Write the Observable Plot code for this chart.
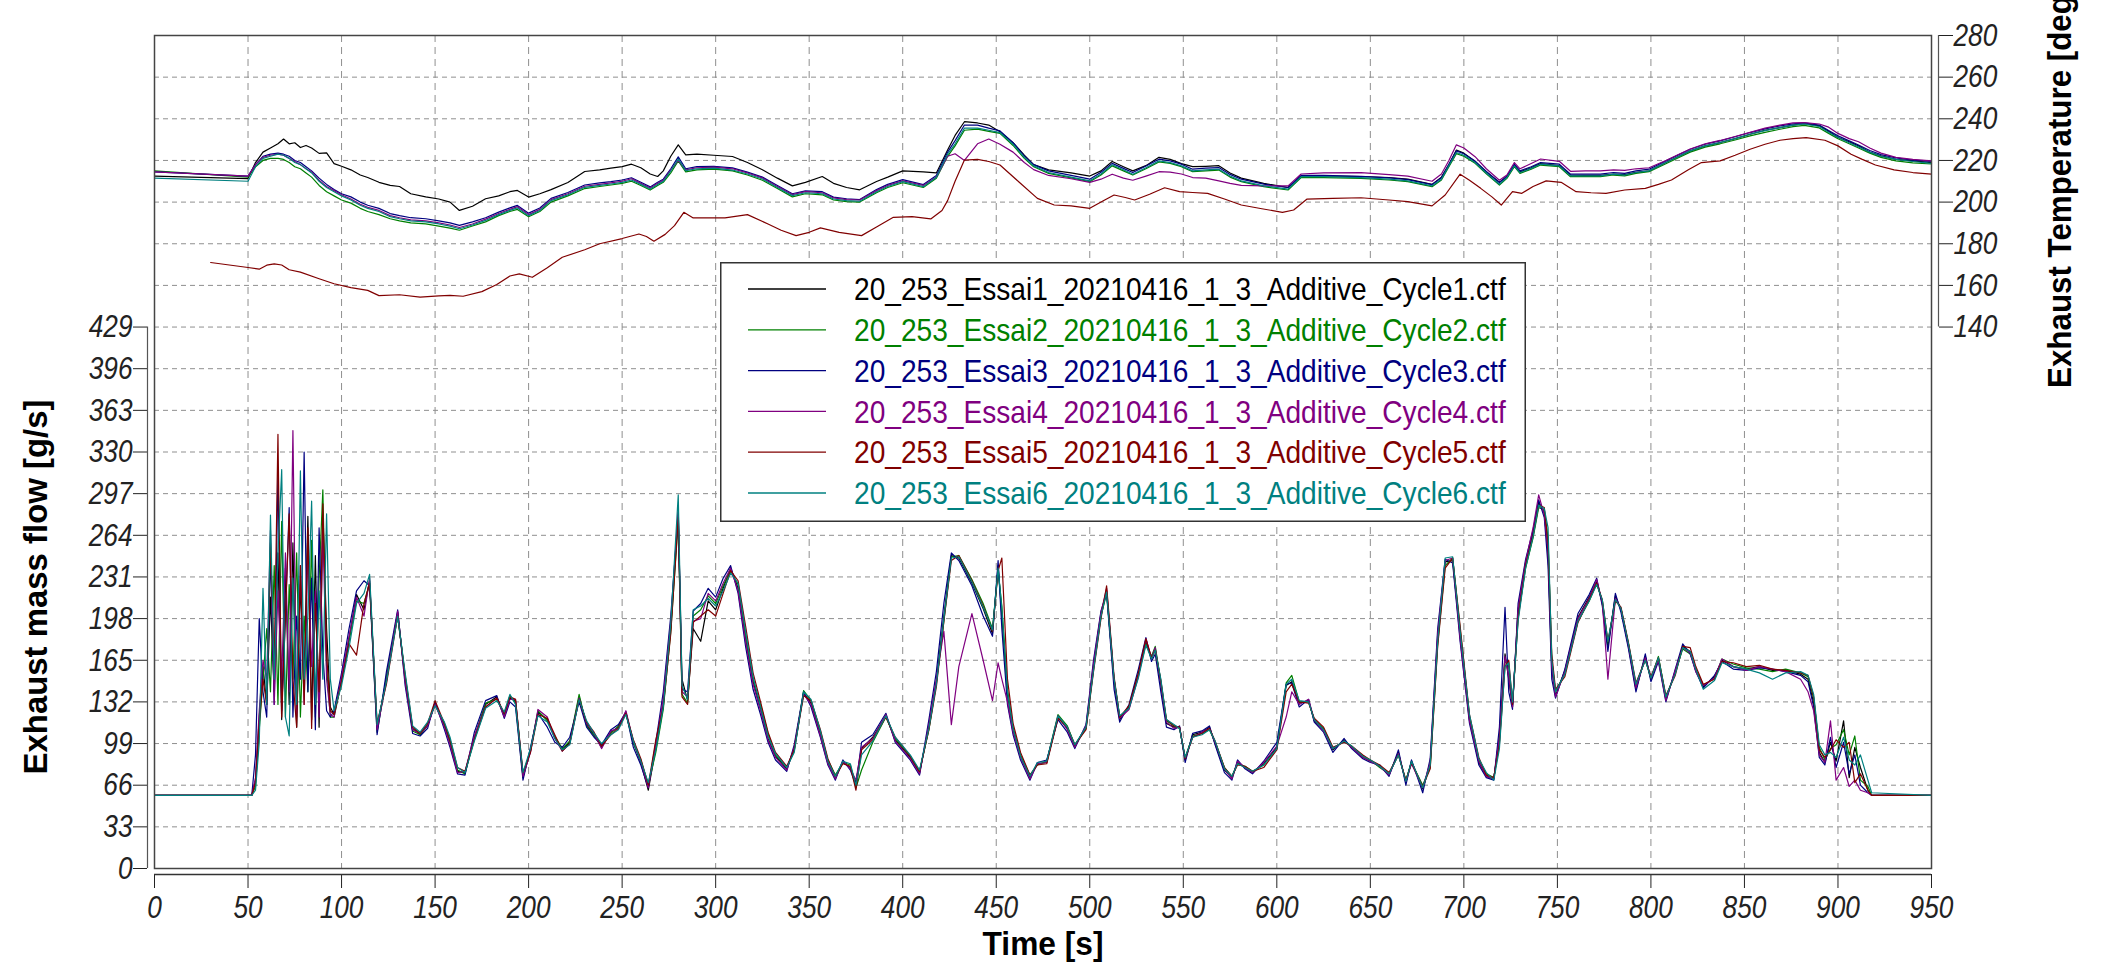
<!DOCTYPE html>
<html><head><meta charset="utf-8">
<script src="https://cdn.jsdelivr.net/npm/d3@7"></script>
<script src="https://cdn.jsdelivr.net/npm/@observablehq/plot@0.6"></script>
<style>
body{margin:0;background:#fff;}
#wrap{position:relative;width:2103px;height:968px;overflow:hidden;background:#fff;}
</style></head><body><div id="wrap"></div>
<script>
// ---------------- DATA ----------------
const seriesNames = [
  "20_253_Essai1_20210416_1_3_Additive_Cycle1.ctf",
  "20_253_Essai2_20210416_1_3_Additive_Cycle2.ctf",
  "20_253_Essai3_20210416_1_3_Additive_Cycle3.ctf",
  "20_253_Essai4_20210416_1_3_Additive_Cycle4.ctf",
  "20_253_Essai5_20210416_1_3_Additive_Cycle5.ctf",
  "20_253_Essai6_20210416_1_3_Additive_Cycle6.ctf"
];
const seriesColors = ["#000000", "#008000", "#000080", "#800080", "#800000", "#008080"];

const xTicks = [0,50,100,150,200,250,300,350,400,450,500,550,600,650,700,750,800,850,900,950];
const flowTicks = [0,33,66,99,132,165,198,231,264,297,330,363,396,429];
const tempTicks = [140,160,180,200,220,240,260,280];

// Exhaust mass flow [g/s]
const mfTime = [
0,52,54,56,58,60,62,64,66,68,70,72,74,76,78,80,82,84,86,88,90,92,94,96,
100,104,108,112,115,119,124,130,134,138,142,146,150,155,158,162,166,171,177,183,187,190,193,197,
201,205,210,214,218,222,227,231,235,239,244,248,252,256,260,264,268,272,276,280,282,285,288,292,296,
300,304,308,312,316,320,324,328,332,338,342,347,351,356,360,364,368,372,375,378,384,391,396,
404,409,414,418,422,426,430,437,443,448,451,453,456,459,463,468,472,477,483,488,492,498,
502,506,509,513,516,521,526,530,533,535,538,541,545,548,551,555,560,564,567,572,576,579,583,587,593,
600,605,608,612,617,620,625,630,636,640,646,650,655,660,665,669,672,678,682,686,690,694,698,
703,708,712,716,719,722,724,726,729,733,737,740,743,745,747,749,754,761,767,771,774,777,781,784,788,792,797,
800,804,808,813,817,821,824,828,834,838,844,851,858,865,872,880,884,887,890,893,896,899,
903,906,909,912,916,918,950];

const mfCycle1 = [
58,58,70,120,160,130,215,140,250,118,238,130,258,112,225,150,279,118,248,112,280,190,128,122,
150,182,217,205,228,112,150,203,150,111,106,113,131,113,100,77,76,104,130,136,121,135,133,74,
93,124,118,104,94,100,136,114,106,96,108,112,124,100,84,62,96,130,191,282,150,133,190,180,212,
205,222,238,222,182,148,127,103,89,79,95,139,131,106,84,72,84,80,68,95,104,121,102,
88,76,112,148,200,248,246,226,206,186,240,200,138,110,89,72,83,84,120,111,97,112,
160,202,220,148,118,128,154,180,166,174,146,115,112,112,86,106,108,112,99,78,72,84,80,76,83,
96,145,148,131,133,117,110,94,102,96,88,85,81,74,92,68,85,63,83,183,243,244,185,
118,84,73,71,105,170,150,128,205,242,266,290,282,250,158,137,157,199,215,228,210,176,216,205,176,142,168,
150,166,134,156,176,172,157,144,152,165,160,158,160,157,157,154,150,131,92,84,100,85,
117,72,96,80,62,58,58];

const mfCycle2 = [
58,58,65,110,150,190,140,240,130,275,120,225,150,250,120,200,140,260,120,230,300,160,120,120,
148,180,212,210,226,108,152,200,152,109,106,114,130,114,101,78,75,103,131,134,122,137,131,72,
94,125,117,105,95,101,138,113,105,97,107,113,123,99,86,66,92,126,188,275,138,131,200,205,216,
210,224,236,225,185,150,130,107,90,80,93,141,133,108,86,74,84,82,64,78,100,120,103,
89,77,110,147,196,247,248,229,210,190,236,208,142,112,90,74,82,85,122,113,98,111,
158,200,218,150,120,127,153,178,168,176,148,117,113,111,88,105,107,110,100,80,73,83,81,77,82,
95,147,153,132,132,118,111,95,101,97,89,86,80,75,90,70,84,66,80,178,240,246,190,
120,86,75,72,100,165,160,130,200,238,262,286,284,262,165,140,155,196,212,226,212,178,214,206,178,145,166,
150,168,136,155,174,170,158,145,151,166,162,159,158,156,158,155,152,135,96,86,95,98,
110,90,105,70,65,58,58];

const mfCycle3 = [
58,58,90,198,140,120,250,130,314,125,200,286,120,200,150,330,140,230,110,270,170,125,120,125,
155,190,220,228,224,106,156,205,145,107,105,111,132,110,96,75,74,108,133,137,119,132,128,70,
96,123,112,100,96,104,132,112,104,98,110,114,124,96,82,64,100,140,200,280,142,140,204,210,222,
215,230,240,218,176,142,122,100,86,77,98,140,128,104,82,70,86,78,66,100,106,123,100,
86,74,118,156,210,250,244,224,200,184,244,190,130,106,86,70,84,86,118,108,95,114,
165,204,218,142,116,130,158,183,164,170,140,112,110,113,84,107,109,113,98,76,70,86,79,75,85,
100,146,147,128,134,116,108,92,103,95,87,84,82,73,94,66,86,60,87,190,245,242,180,
115,82,72,70,112,207,140,126,210,245,268,292,278,240,150,135,158,202,217,230,208,172,218,203,174,140,170,
148,164,132,158,178,170,156,143,153,164,158,157,159,158,156,153,148,128,88,82,104,80,
100,75,90,66,60,58,58];

const mfCycle4 = [
58,58,72,125,165,150,268,130,220,150,250,140,347,120,240,130,250,160,220,120,270,150,122,120,
152,184,215,200,230,110,148,204,148,110,107,113,130,112,98,76,77,105,128,135,120,134,134,73,
92,126,120,103,93,99,135,115,107,95,109,111,125,101,85,64,98,135,195,285,140,136,196,198,218,
212,226,238,220,180,146,125,102,88,78,96,138,130,105,83,71,85,79,70,96,103,122,101,
87,75,114,150,188,114,160,202,165,133,163,150,132,108,88,71,83,84,121,110,96,113,
162,203,222,150,119,126,152,182,167,175,147,116,111,112,87,104,108,111,100,79,71,85,80,76,84,
97,120,140,130,134,118,109,95,101,96,88,85,81,74,91,69,83,64,84,186,244,246,182,
117,85,73,71,104,168,152,128,206,243,270,296,280,252,160,136,156,198,214,229,211,150,214,206,177,143,167,
151,165,133,157,175,171,156,145,151,166,160,157,160,158,156,150,140,125,90,84,117,70,
80,65,70,62,60,58,58];

const mfCycle5 = [
58,58,68,115,150,130,258,160,344,120,200,281,150,112,240,130,270,111,210,140,289,170,125,122,
148,178,169,210,226,115,146,200,153,112,107,115,133,115,102,80,77,102,128,135,123,136,134,76,
92,122,119,106,93,99,134,116,108,97,106,111,123,102,87,66,102,128,186,278,136,130,195,200,205,
200,218,236,228,192,155,132,108,92,81,94,137,133,110,87,73,83,81,62,94,102,120,104,
89,77,110,144,196,244,248,228,208,188,236,246,150,115,92,74,82,83,119,112,98,110,
156,198,224,152,120,129,155,182,167,173,149,118,113,112,87,104,107,111,101,80,73,82,81,77,80,
94,140,146,132,131,119,112,96,100,97,90,86,82,76,90,70,84,65,79,176,238,246,192,
122,88,74,72,98,160,165,130,198,240,264,288,286,258,170,142,152,195,213,226,213,180,212,207,179,147,165,
152,167,137,153,176,175,160,146,150,164,163,160,161,158,157,155,153,136,94,88,94,102,
96,100,68,75,62,58,58];

const mfCycle6 = [
58,58,62,100,222,130,280,150,250,316,120,105,230,130,315,150,200,291,130,220,150,281,150,125,
145,175,210,218,233,114,148,200,155,113,108,116,129,116,104,80,76,101,127,133,124,138,130,76,
95,121,116,103,94,98,134,117,107,99,106,110,122,101,85,68,94,128,194,296,145,134,205,208,214,
208,220,234,226,188,152,128,105,91,80,92,140,134,109,85,73,85,83,66,90,101,121,104,
90,78,111,146,198,246,247,227,207,189,238,206,140,111,89,73,84,85,121,112,98,112,
157,200,219,150,121,127,151,177,166,173,150,118,114,111,88,104,106,110,101,79,73,83,80,77,82,
95,146,150,133,132,118,110,95,101,97,89,86,81,75,90,69,85,64,82,180,246,247,188,
122,87,76,70,95,160,163,132,196,238,263,288,285,270,165,140,154,196,212,225,213,180,213,206,178,146,165,
151,167,136,154,175,172,158,142,149,163,160,158,155,150,155,156,153,138,98,90,92,88,
104,86,82,90,70,60,58];

// Exhaust temperature [degC]
const tempTime = [
0,50,54,58,62,66,69,72,75,78,
81,84,88,92,96,100,105,110,114,120,
126,131,137,145,152,158,163,170,177,184,
190,194,200,206,212,221,230,238,244,250,
255,260,265,269,272,276,280,284,290,299,
309,317,325,333,341,348,357,363,370,377,
386,392,400,411,418,424,428,433,440,446,
452,459,465,470,478,490,500,506,512,518,
523,530,537,543,549,555,562,569,575,581,
593,606,613,625,645,660,670,683,688,692,
696,700,706,712,719,723,727,730,736,741,
751,757,765,773,780,786,792,799,808,815,
821,829,837,845,853,861,869,876,882,890,
895,900,906,911,917,923,931,940,950];

const tempCycle1 = [
212.5,211.3,219,224,226,228,230.3,228,228.5,226.2,
227.2,226,223.4,223.6,218.5,217.2,215.5,213,211.8,209.5,
208,207.5,204,202.5,201.5,200,196,198,201.6,203,
205,205.6,202.4,204,206,209.4,214.7,215.5,216.3,217,
218.2,216.5,213.5,212.3,215,222,227.5,222.7,223,222.5,
221.9,219,215.5,211.5,207.8,209.5,212.3,209,207,205.9,
209.9,212,215,214.5,214,225,232,238.6,238,237,
233.8,228.5,222.5,218,215.5,214,212.5,215,219.5,217,
215,217.5,221.5,220.5,218.5,217,217.2,217.5,214,211.5,
209,207,212.5,212.5,212.3,211.8,211,208.5,212,218,
225,223.5,219.5,214.5,209.5,212,217.5,214.5,216.5,218.5,
217.5,213,212.8,212.8,213.5,213.2,214.3,215,219,222,
224.6,227,228.6,230.5,232.6,234.5,235.8,237,237.7,236.6,
234,231,229,227,224,222.2,220.5,219.8,219];

const tempCycle2 = [
215,212,217,220,221,221,220.5,219,217,216,
214,212,208,205,203,201,199.5,197,195.5,194,
192,191,190,189.5,188.5,187.5,186.5,188.5,190.5,193.5,
195.5,196.5,193,195.5,200,203,206.5,207.5,208.2,209,
210,208,205.8,208,209.5,214,219.8,214.5,215.5,215.8,
215,213,210.5,206.5,202.5,204,203.5,201,200.2,200,
204.5,207,209.3,207,211.5,222,227,234.5,235,234,
233,227.2,221,217,213.8,211.6,209.8,213,217.4,215,
213,216,219.3,218.6,217,214.6,215,215.4,212,209.8,
207.4,205.8,211.8,211.8,211.4,210.6,209.8,207.4,210.6,217,
223.3,222,218.6,213.6,208.2,211.4,217,213.8,215.8,217.8,
217,212.2,212.2,212.2,213,212.6,213.8,214.6,218.4,221.4,
224,226.4,228,229.8,231.8,233.5,235,236.2,236.8,235.6,
233,230.4,228,226,223.5,221.5,219.8,218.8,218.3];

const tempCycle3 = [
214.5,212.5,218,222,223,223.5,223,222,220,219,
217,215,211.5,208.5,206,204,202.5,200,198.5,197,
194.5,193.5,192.5,192,191,190,188.8,190.5,192.5,195.2,
197.2,198.4,194.7,197.2,201.8,204.6,208.2,209.2,209.8,210.6,
211.7,209.5,207.3,209.5,211,216,221.7,216,217,217.2,
216.4,214.4,212,208,204,205.4,205,202.4,201.6,201.2,
206,208.5,210.8,208.4,212.8,224,229.5,237,237,235.5,
234.2,228.5,222.2,218,215,212.8,211,214.3,218.6,216.2,
214.2,217.3,220.6,219.8,218.2,215.8,216.3,216.6,213.3,211,
208.6,207,212.8,212.8,212.4,211.6,210.8,208.4,211.7,218.2,
224.6,223.2,219.7,214.7,209.4,212.5,218.2,215,217,219,
218.2,213.4,213.4,213.4,214.2,213.8,215,215.8,219.8,222.8,
225.4,227.8,229.4,231.4,233.4,235.2,236.6,237.6,238,237,
234.4,231.8,229.4,227.4,224.8,222.8,221.2,220.2,219.6];

const tempCycle4 = [
214.5,212.5,218,221.5,222.5,223,222.5,221,219.5,218,
216,214.5,210.5,207.5,205.5,203.5,201.5,199,197.5,196,
193.5,192.5,191.5,191,190,189,187.8,189.5,191.8,194.5,
196.5,197.8,194,196.5,201.2,204,207.6,208.5,209.2,210,
211.2,209,206.8,209,210.5,215.5,220,215.5,216.5,216.8,
216,214,211.6,207.5,203.6,205,204.5,202,201.2,201,
205.5,208,210.2,208,212,222,223.2,220,228,230.3,
227.8,224,219,215.6,212.8,211.2,209.5,211,213.4,211.5,
210.5,212.5,214.6,214.4,213.5,211.8,211.5,210.2,209,208,
207.8,207.8,213.5,214,214.2,213.2,212.5,210,213.5,220,
227.5,226,221.8,216,210.5,213,219,216,218.5,220.7,
219.6,214.8,215,215,215.5,215.2,216,216.5,220,223,
225.5,228,229.6,231.5,233.5,235.5,237,238,238.2,237.5,
236,233,230.5,229,226,223.5,221.5,220.5,219.8];

const tempCycle6 = [
211.5,210,217,221,222,223,222.5,221,219,218,
216,214,210,207,205,203,201,198.5,197,195.5,
193,192,191,190.5,189.5,188.5,187.2,189,191.2,194,
196,197.2,193.5,196,200.7,203.5,207.1,208,208.7,209.5,
210.6,208.5,206.3,208.5,210,215,220.7,215.1,216,216.3,
215.4,213.5,211.1,207,203.1,204.5,204,201.5,200.7,200.4,
205,207.5,209.8,207.4,211.9,223,228,235.5,235.5,234.5,
233.4,227.8,221.5,217.4,214.2,212,210.2,213.5,217.9,215.5,
213.4,216.5,219.8,219,217.4,215,215.5,215.8,212.5,210.2,
207.8,206.2,212.2,212.2,211.8,211,210.2,207.8,211,217.5,
223.8,222.5,219,214,208.6,211.8,217.4,214.2,216.2,218.2,
217.4,212.6,212.6,212.6,213.4,213,214.2,215,219,222,
224.6,227,228.6,230.5,232.6,234.3,235.8,237,237.5,236.3,
233.5,231,228.5,226.5,224,222,220.5,219.5,218.6];

const tempTime5 = [
30,40,50,56,60,64,68,72,78,88,
96,105,114,120,131,142,152,158,165,175,
183,190,195,202,210,218,230,238,250,259,
263,267,273,278,283,288,305,317,328,335,
343,350,356,366,378,386,395,405,415,421,
424,428,433,440,446,452,462,472,481,490,
500,507,513,519,524,532,540,548,555,563,
572,581,592,603,609,616,630,645,660,670,
683,690,698,703,709,715,720,726,731,737,
744,752,760,768,776,786,797,804,811,820,
827,837,845,853,861,869,876,883,893,900,
907,913,920,930,940,950];

const tempCycle5 = [
171,169.8,168.6,167.8,169.7,170.3,169.8,167.5,166.4,163.2,
160.8,158.9,157.6,155.1,155.5,154.4,155,155.2,154.8,157,
160.4,164.5,165.5,163.9,168.5,173.5,177.1,180,182.5,184.7,
183.5,181.2,184.5,188.7,195.1,192.4,192.4,194,189.5,186.5,
183.9,185.5,187.6,185.5,183.9,188,192.7,193,191.9,196,
200.7,210,220.2,220.5,219.5,217.8,209.8,201.8,198.6,198.2,
197,200.5,203.4,202.2,201,203.8,206.9,205,204.6,204.2,
201.5,198.6,196.8,195.1,196.2,201.4,201.8,202.1,201,200.2,
198.2,203.4,213.4,210.5,206.6,202.5,198.6,205,204.2,207.5,
210.2,209.5,205,204.5,204.2,205.8,206.6,208.5,210.6,215.5,
219,219.8,222.5,225.4,227.8,229.7,230.5,231,229.7,227,
223,220.5,217.8,215.5,214.2,213.4];

// ---------------- BUILD ----------------
// Secondary (temperature) axis shares the plot's y scale: 140..280 degC sits on the 429..660 g/s rows
const FLOW_MAX = 660;          // 20 grid rows of 33 g/s
const T_LOW = -120, T_HIGH = 280;
const tempToY = T => (T - T_LOW) * FLOW_MAX / (T_HIGH - T_LOW);
const yToTemp = y => y * (T_HIGH - T_LOW) / FLOW_MAX + T_LOW;

const flowSeries = [mfCycle1, mfCycle2, mfCycle3, mfCycle4, mfCycle5, mfCycle6];
const tempSeries = [
  [tempTime, tempCycle1], [tempTime, tempCycle2], [tempTime, tempCycle3],
  [tempTime, tempCycle4], [tempTime5, tempCycle5], [tempTime, tempCycle6]
];

const flowData = flowSeries.map(vals => vals.map((v, j) => ({t: mfTime[j], v})));
const tempData = tempSeries.map(([tt, vals]) => vals.map((T, j) => ({t: tt[j], y: tempToY(T)})));

const FONT = "'Liberation Sans', Arial, Helvetica, sans-serif";
const lineMarks = [];
tempData.forEach((d, i) => lineMarks.push(Plot.line(d, {x: "t", y: "y", stroke: seriesColors[i], strokeWidth: 1.2})));
flowData.forEach((d, i) => lineMarks.push(Plot.line(d, {x: "t", y: "v", stroke: seriesColors[i], strokeWidth: 1.2})));

const tickStyle = {fontSize: 32, fontStyle: "italic", fontFamily: FONT, color: "#222", tickSize: 14, label: null};

const svg = Plot.plot({
  width: 2103, height: 968,
  marginLeft: 154, marginRight: 172, marginTop: 35, marginBottom: 100,
  style: {fontFamily: FONT, background: "#fff", color: "#000"},
  x: {domain: [0, 950]},
  y: {domain: [0, FLOW_MAX]},
  marks: [
    Plot.gridX({ticks: xTicks.slice(1, -1), stroke: "#8f8f8f", strokeOpacity: 1, strokeDasharray: "7,5"}),
    Plot.gridY({ticks: d3.range(33, FLOW_MAX, 33), stroke: "#8f8f8f", strokeOpacity: 1, strokeDasharray: "5,4"}),
    ...lineMarks,
    Plot.frame({stroke: "#444", strokeWidth: 1.5}),
    // bottom axis
    Plot.axisX({...tickStyle, ticks: xTicks, tickPadding: 7, dy: 6, tickFormat: d => String(d)}),
    Plot.ruleY([0], {x1: 0, x2: 950, dy: 6, stroke: "#333", strokeWidth: 1.5}),
    // left axis (mass flow)
    Plot.axisY({...tickStyle, ticks: flowTicks, tickPadding: 1, dx: -7, tickFormat: d => String(d)}),
    Plot.ruleX([0], {y1: 0, y2: 429, dx: -7, stroke: "#555", strokeWidth: 1.2}),
    // right axis (temperature)
    Plot.axisY({...tickStyle, anchor: "right", ticks: tempTicks.map(tempToY), tickPadding: 1, dx: 7,
      tickFormat: d => String(Math.round(yToTemp(d)))}),
    Plot.ruleX([950], {y1: tempToY(140), y2: tempToY(280), dx: 7, stroke: "#555", strokeWidth: 1.2}),
    // titles
    Plot.text(["Time [s]"], {frameAnchor: "bottom", textAnchor: "middle", lineAnchor: "middle", dy: 76,
      fontSize: 34, fontWeight: "bold", fill: "#000"}),
    Plot.text(["Exhaust mass flow [g/s]"], {frameAnchor: "left", textAnchor: "middle", lineAnchor: "middle",
      rotate: -90, dx: -118, dy: 135, fontSize: 34, fontWeight: "bold", fill: "#000"}),
    Plot.text(["Exhaust Temperature [degC]"], {frameAnchor: "right", textAnchor: "middle", lineAnchor: "middle",
      rotate: -90, dx: 129, dy: -277, fontSize: 34, fontWeight: "bold", fill: "#000"})
  ]
});

const wrap = document.getElementById("wrap");
wrap.appendChild(svg);

// condensed look of the original (narrow sans face): scale each text to the measured width
function condense(textEl, targetWidth) {
  const natural = textEl.getComputedTextLength();
  if (natural > 0) {
    const k = targetWidth / natural;
    textEl.setAttribute("transform", (textEl.getAttribute("transform") || "") + ` scale(${k.toFixed(4)},1)`);
  }
}
svg.querySelectorAll('g[aria-label*="tick label"] text').forEach(t => {
  t.setAttribute("transform", (t.getAttribute("transform") || "") + " scale(0.82,1)");
});
const titleLengths = {"Time [s]": 121, "Exhaust mass flow [g/s]": 375, "Exhaust Temperature [degC]": 426};
svg.querySelectorAll("text").forEach(t => {
  const L = titleLengths[t.textContent];
  if (L) condense(t, L);
});

// legend box inside the plot area
const lg = d3.create("svg")
  .attr("width", 806).attr("height", 260)
  .style("position", "absolute").style("left", "720px").style("top", "262px");
lg.append("rect").attr("x", 0.75).attr("y", 0.75).attr("width", 804.5).attr("height", 258.5)
  .attr("fill", "#fff").attr("stroke", "#333").attr("stroke-width", 1.5);
const legendTexts = [];
seriesNames.forEach((name, i) => {
  const cy = 27 + i * 40.8;
  lg.append("line").attr("x1", 28).attr("x2", 106).attr("y1", cy).attr("y2", cy)
    .attr("stroke", seriesColors[i]).attr("stroke-width", 1.3);
  legendTexts.push(lg.append("text").attr("transform", `translate(134,${cy})`).attr("dy", "0.35em")
    .attr("font-family", FONT).attr("font-size", 32).attr("fill", seriesColors[i]).text(name).node());
});
wrap.appendChild(lg.node());
legendTexts.forEach(t => condense(t, 652));
</script>
</body></html>
